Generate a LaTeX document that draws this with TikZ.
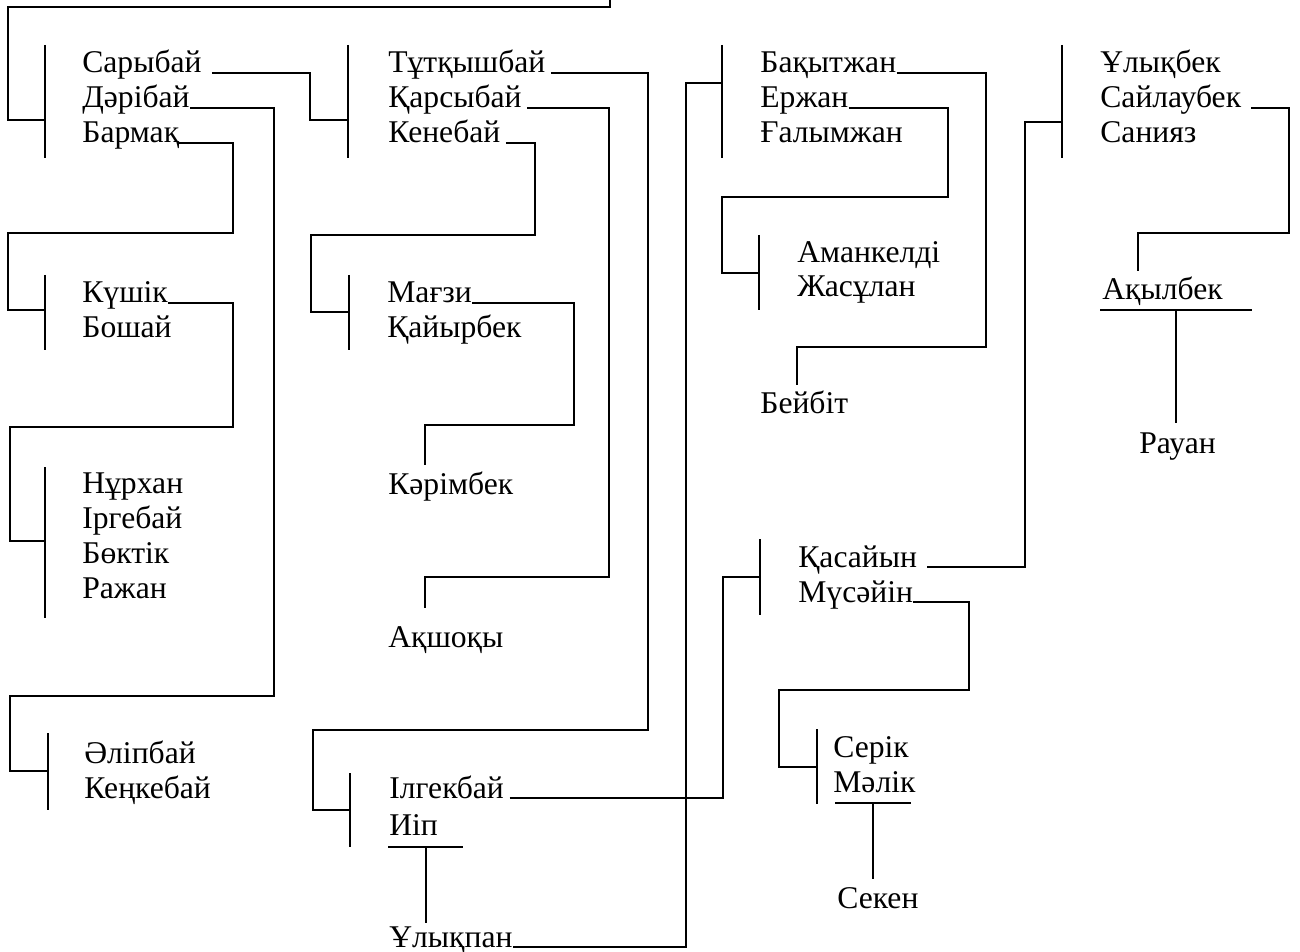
\documentclass[tikz,border=0pt]{standalone}
\usepackage{fontspec}
\setmainfont{Liberation Serif}
\begin{document}
\begin{tikzpicture}[x=0.02cm,y=-0.02cm,
  nm/.style={anchor=base west,inner sep=0pt,font=\fontsize{18}{21}\selectfont},
  ln/.style={line width=1pt,line join=miter},
  gapA/.style={xshift=5.7pt},gapB/.style={xshift=3pt}]
\useasboundingbox (0,0) rectangle (1300,952);
% ---------- names ----------
\node[nm] (sar) at (82,73) {Сарыбай};
\node[nm] (der) at (82,108) {Дәрібай};
\node[nm] (barm) at (82,143) {Бармақ};
\node[nm] (kush) at (82,303) {Күшік};
\node[nm] (bosh) at (82,338) {Бошай};
\node[nm] (nur) at (82,493) {Нұрхан};
\node[nm] (irg) at (82,528) {Іргебай};
\node[nm] (bokt) at (82,563) {Бөктік};
\node[nm] (raj) at (82,598) {Ражан};
\node[nm] (alip) at (84,763) {Әліпбай};
\node[nm] (kenk) at (84,798) {Кеңкебай};
\node[nm] (tut) at (388,73) {Тұтқышбай};
\node[nm] (kars) at (388,108) {Қарсыбай};
\node[nm] (keneb) at (388,143) {Кенебай};
\node[nm] (magz) at (387,303) {Мағзи};
\node[nm] (kaiyr) at (387,338) {Қайырбек};
\node[nm] (karim) at (388,494) {Кәрімбек};
\node[nm] (akshok) at (388,647) {Ақшоқы};
\node[nm] (ilg) at (389,798) {Ілгекбай};
\node[nm] (iip) at (389,835) {Иіп};
\node[nm] (ulykp) at (389,947) {Ұлықпан};
\node[nm] (bak) at (760,73) {Бақытжан};
\node[nm] (erzh) at (760,108) {Ержан};
\node[nm] (galym) at (760,143) {Ғалымжан};
\node[nm] (amank) at (797,263) {Аманкелді};
\node[nm] (zhas) at (797,297) {Жасұлан};
\node[nm] (beib) at (760,413) {Бейбіт};
\node[nm] (kasai) at (798,567) {Қасайын};
\node[nm] (muse) at (798,602) {Мүсәйін};
\node[nm] (serik) at (833,757) {Серік};
\node[nm] (malik) at (833,792) {Мәлік};
\node[nm] (seken) at (837,908) {Секен};
\node[nm] (ulykb) at (1100,73) {Ұлықбек};
\node[nm] (sail) at (1100,108) {Сайлаубек};
\node[nm] (saniyaz) at (1100,143) {Санияз};
\node[nm] (akylb) at (1102,300) {Ақылбек};
\node[nm] (rauan) at (1139,453) {Рауан};
% ---------- bars and attach points ----------
\coordinate (g1) at (45,120);   \draw[ln] (45,45) -- (45,158);
\coordinate (g2) at (348,120);  \draw[ln] (348,45) -- (348,158);
\coordinate (g4) at (722,83);   \draw[ln] (722,45) -- (722,158);
\coordinate (g5) at (1062,122); \draw[ln] (1062,45) -- (1062,158);
\coordinate (gk) at (45,310);   \draw[ln] (45,275) -- (45,350);
\coordinate (gn) at (45,541);   \draw[ln] (45,467) -- (45,618);
\coordinate (ga) at (48,771);   \draw[ln] (48,733) -- (48,810);
\coordinate (gm) at (349,312);  \draw[ln] (349,275) -- (349,350);
\coordinate (gi) at (350,810);  \draw[ln] (350,773) -- (350,847);
\coordinate (gam) at (759,273); \draw[ln] (759,235) -- (759,310);
\coordinate (gq) at (760,577);  \draw[ln] (760,539) -- (760,615);
\coordinate (gs) at (817,767);  \draw[ln] (817,729) -- (817,804);
% ---------- connectors ----------
\draw[ln] (610,0) |- (8,7) |- (g1);
\draw[ln] ([gapA]sar.base east) -| (310,120) -- (g2);
\draw[ln] (der.base east) -| (274,696) -| (10,771) -- (ga);
\draw[ln] (barm.base east) -| (233,233) -| (8,310) -- (gk);
\draw[ln] (kush.base east) -| (233,427) -| (10,541) -- (gn);
\draw[ln] ([gapB]tut.base east) -| (648,730) -| (313,810) -- (gi);
\draw[ln] ([gapB]kars.base east) -| (609,577) -| (425,608) coordinate (ak);
\draw[ln] ([gapB]keneb.base east) -| (535,235) -| (311,312) -- (gm);
\draw[ln] (magz.base east) -| (574,425) -| (425,465) coordinate (kr);
\draw[ln] ([gapB]ilg.base east) -| (723,577) -- (gq);
\draw[ln] (ulykp.base east) -| (686,83) -- (g4);
\draw[ln] (bak.base east) -| (986,347) -| (797,385) coordinate (bb);
\draw[ln] (erzh.base east) -| (948,197) -| (722,273) -- (gam);
\draw[ln] ([gapA]kasai.base east) -| (1025,122) -- (g5);
\draw[ln] (muse.base east) -| (969,690) -| (779,767) -- (gs);
\draw[ln] ([gapA]sail.base east) -| (1289,233) -| (1138,271) coordinate (ay);
% ---------- marriages ----------
\coordinate (m1) at (426,847); \draw[ln] (388,847) -- (463,847);
\draw[ln] (m1) -- (426,923) coordinate (c1);
\coordinate (m2) at (873,803); \draw[ln] (835,803) -- (911,803);
\draw[ln] (m2) -- (873,879) coordinate (c2);
\coordinate (m3) at (1176,310); \draw[ln] (1100,310) -- (1252,310);
\draw[ln] (m3) -- (1176,423) coordinate (c3);
\end{tikzpicture}
\end{document}
